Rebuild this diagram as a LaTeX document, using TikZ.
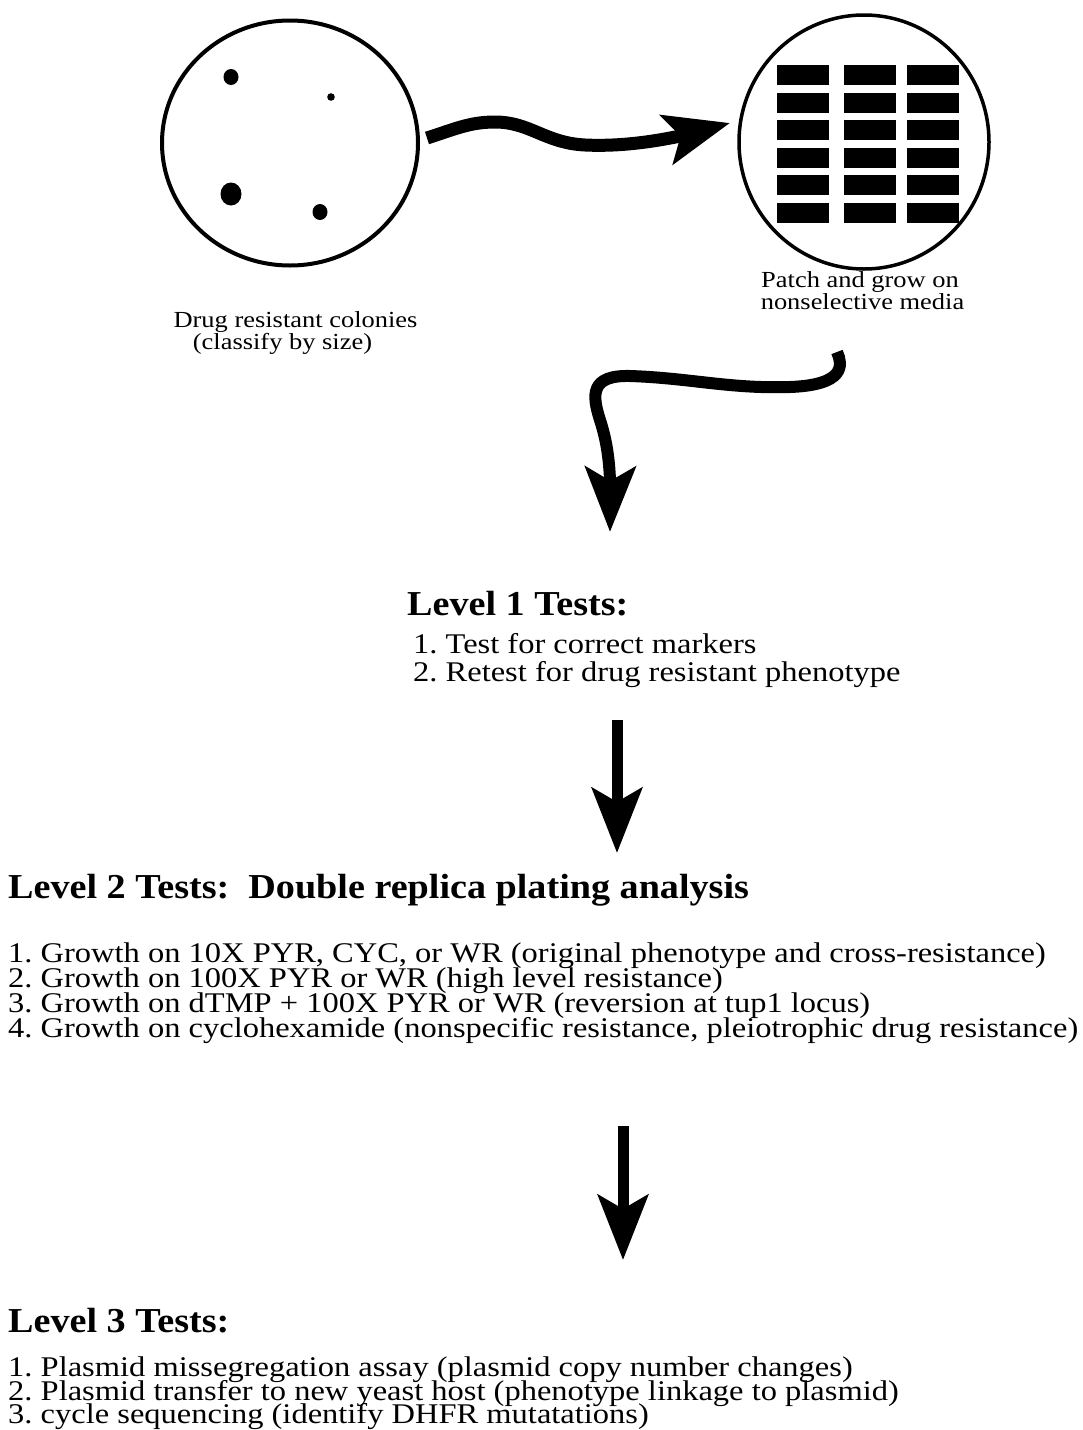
\documentclass[tikz,border=0pt]{standalone}
\usepackage{fontspec}
\usepackage{graphicx}
\setmainfont{Liberation Serif}
\frenchspacing
\usetikzlibrary{shapes.geometric,arrows.meta,bending}
\newcommand{\wideitem}[1]{\scalebox{1.14}[1]{#1}}
\newcommand{\widehead}[1]{\scalebox{1.09}[1]{#1}}
\newcommand{\widecap}[1]{\scalebox{1.15}[1]{#1}}
\begin{document}
\begin{tikzpicture}[x=1pt,y=-1pt,
  plate/.style={draw, ellipse, inner sep=0pt},
  colony/.style={fill=black},
  patch/.style={fill=black},
  heading/.style={font=\fontsize{35}{38}\selectfont\bfseries, anchor=base west, inner sep=0pt},
  item/.style={font=\fontsize{28.5}{30}\selectfont, anchor=base west, inner sep=0pt},
  caption/.style={font=\fontsize{23}{25}\selectfont, anchor=base, inner sep=0pt},
  bigarrow/.style={line width=#1, -{Stealth[length=65pt, width=50pt, inset=14pt]}},
]
\useasboundingbox (0,0) rectangle (1083,1430);

% plates
\node[plate, line width=4pt, minimum width=256pt, minimum height=245pt] (plate1) at (290,143) {};
\node[plate, line width=3.5pt, minimum width=250pt, minimum height=254pt] (plate2) at (864,142) {};

% colonies
\fill[colony] (231,77) ellipse (7.5 and 8);
\fill[colony] (331,97) circle (3.8);
\fill[colony] (231,194) ellipse (10.5 and 11.5);
\fill[colony] (320,212) ellipse (7.5 and 8);

% patches
\foreach \cx in {777,844,907}{
  \foreach \r in {0,...,5}{
    \fill[patch] (\cx,65+27.6*\r) rectangle ++(52,20);
  }
}

% captions
\node[caption] (cap1a) at (295.5,327) {\widecap{Drug resistant colonies}};
\node[caption] (cap1b) at (282.5,349) {\widecap{(classify by size)}};
\node[caption] (cap2a) at (860,287) {\widecap{Patch and grow on}};
\node[caption] (cap2b) at (862.5,309) {\widecap{nonselective media}};

% level 1
\node[heading] (l1h) at (407,615) {\widehead{Level 1 Tests:}};
\node[item] (l1a) at (413,653) {\wideitem{1. Test for correct markers}};
\node[item] (l1b) at (413,681) {\wideitem{2. Retest for drug resistant phenotype}};

% level 2
\node[heading] (l2h) at (8,898) {\widehead{Level 2 Tests:\ \ Double replica plating analysis}};
\node[item] (l2a) at (8,962) {\wideitem{1. Growth on 10X PYR, CYC, or WR (original phenotype and cross-resistance)}};
\node[item] (l2b) at (8,987) {\wideitem{2. Growth on 100X PYR or WR (high level resistance)}};
\node[item] (l2c) at (8,1012) {\wideitem{3. Growth on dTMP + 100X PYR or WR (reversion at tup1 locus)}};
\node[item] (l2d) at (8,1037) {\wideitem{4. Growth on cyclohexamide (nonspecific resistance, pleiotrophic drug resistance)}};

% level 3
\node[heading] (l3h) at (8,1332) {\widehead{Level 3 Tests:}};
\node[item] (l3a) at (8,1376) {\wideitem{1. Plasmid missegregation assay (plasmid copy number changes)}};
\node[item] (l3b) at (8,1400) {\wideitem{2. Plasmid transfer to new yeast host (phenotype linkage to plasmid)}};
\node[item] (l3c) at (8,1423) {\wideitem{3. cycle sequencing (identify DHFR mutatations)}};

% arrow end points
\coordinate (a1s) at (427,138);
\coordinate (a1e) at (730,123);
\coordinate (a2s) at (837,352);
\coordinate (a2e) at (610,532);
\coordinate (a3s) at (617,720);
\coordinate (a3e) at (617,853);
\coordinate (a4s) at (623,1126);
\coordinate (a4e) at (623,1260);

% arrows
\draw[bigarrow=13pt] (a1s) .. controls (455,129) and (470,122) .. (495,122)
   .. controls (530,122) and (545,143) .. (585,145)
   .. controls (625,147) and (675,140) .. (a1e);
\draw[bigarrow=12pt] (a2s) .. controls (843,365) and (845,385) .. (790,387)
   .. controls (730,389) and (690,378) .. (630,376)
   .. controls (590,375) and (592,395) .. (600,420)
   .. controls (608,445) and (612,470) .. (a2e);
\draw[bigarrow=11pt] (a3s) -- (a3e);
\draw[bigarrow=11pt] (a4s) -- (a4e);
\end{tikzpicture}
\end{document}
